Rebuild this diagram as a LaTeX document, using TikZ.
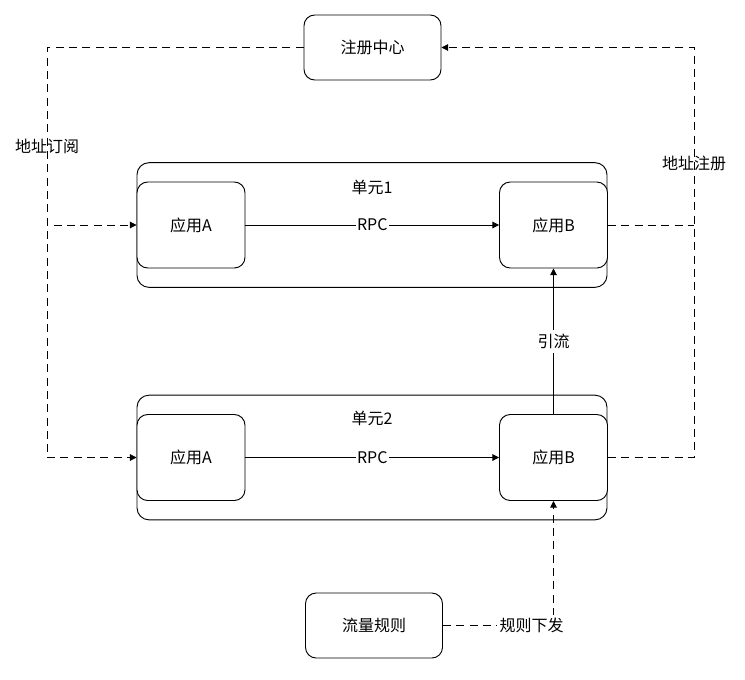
\documentclass[tikz,border=0pt]{standalone}
\usepackage{fontspec}
\newfontfamily\cjk{Noto Sans CJK SC}
\usetikzlibrary{arrows.meta}
\tikzset{
  box/.style = {draw = black, fill = white, line width = 0.7pt, rounded corners = 8pt, font = \cjk\fontsize{12}{14}\selectfont},
  appbox/.style = {box, minimum width = 81pt, minimum height = 64.5pt},
  unitbox/.style = {draw = black, line width = 0.7pt, rounded corners = 9pt, minimum width = 352.5pt, minimum height = 93.5pt},
  lbl/.style = {font = \cjk\fontsize{12}{14}\selectfont, inner sep = 1pt},
  dline/.style = {line width = 0.7pt, dash pattern = on 6pt off 4pt},
  sline/.style = {line width = 0.7pt},
  tip/.tip = {Triangle[length = 5pt, width = 5pt]}
}
\begin{document}
\begin{tikzpicture}[x = 0.75pt, y = -0.75pt]
\useasboundingbox (0,0) rectangle (745,679);
\node[unitbox] (unit1) at (372,225) {};
\node[unitbox] (unit2) at (372,457.5) {};
\node[lbl] (unit1lbl) at (372,187) {单元1};
\node[lbl] (unit2lbl) at (372,418) {单元2};
\node[box, minimum width = 102.75pt, minimum height = 48.75pt] (reg) at (372.5,47.5) {注册中心};
\node[box, minimum width = 102.75pt, minimum height = 48.75pt] (rule) at (374,625.5) {流量规则};
\node[appbox] (a1) at (191,225) {应用A};
\node[appbox] (b1) at (553.5,225) {应用B};
\node[appbox] (a2) at (191,457.5) {应用A};
\node[appbox] (b2) at (553.5,457.5) {应用B};
\coordinate (lt) at (47,47.5);
\coordinate (lb) at (47,457.5);
\coordinate (rt) at (694,47.5);
\coordinate (rb) at (694,457.5);
\draw[sline, -tip] (a1) -- node[lbl, fill = white] (rpc1) {RPC} (b1);
\draw[sline, -tip] (a2) -- node[lbl, fill = white] (rpc2) {RPC} (b2);
\draw[sline, -tip] (b2.north) -- node[lbl, fill = white, inner sep = 3pt] (flow) {引流} (b1.south);
\draw[dline, -tip] (reg.west) -- (lt) -- (lb) -- (a2.west);
\draw[dline, -tip] ([xshift = 5pt]lt |- a1.west) -- (a1.west);
\draw[dline, -tip] (b2.east) -- (rb) -- (rt) -- (reg.east);
\draw[dline] (b1.east) -- (rt |- b1.east);
\draw[dline, -tip] (rule.east) -| node[pos = 0.5, lbl, fill = white, xshift = -16.5pt, inner sep = 2pt] (send) {规则下发} (b2.south);
\node[lbl] (sub) at (47,146) {地址订阅};
\node[lbl] (pub) at (694,163) {地址注册};
\end{tikzpicture}
\end{document}
